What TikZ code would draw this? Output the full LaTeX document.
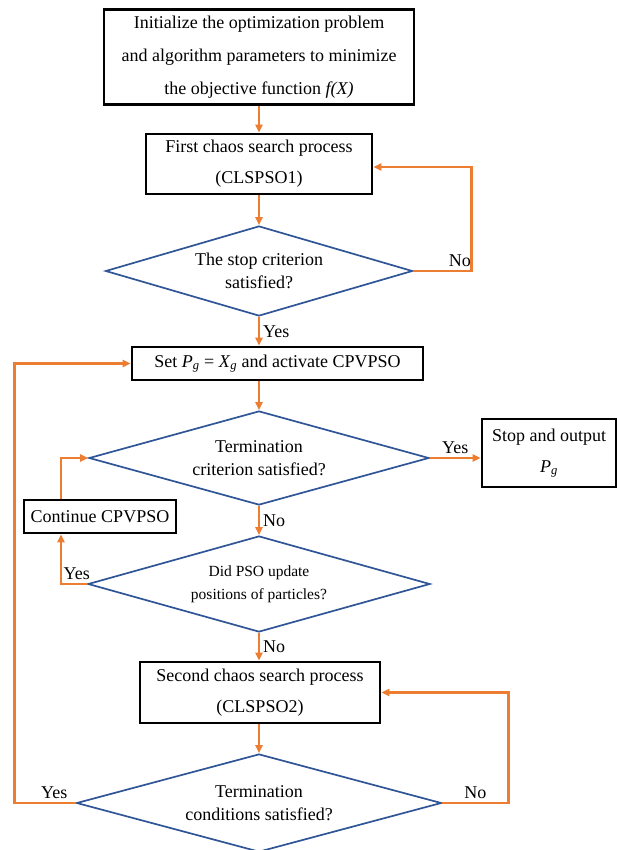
\documentclass[tikz,border=0pt]{standalone}
\usepackage{fontspec}
\setmainfont{Liberation Serif}
\usetikzlibrary{arrows.meta,positioning,shapes.geometric}
\definecolor{flowor}{RGB}{237,125,49}
\definecolor{flowbl}{RGB}{47,85,151}
\newcommand{\sym}[2]{\textit{#1}\textsubscript{\textit{#2}}}

\begin{document}
\begin{tikzpicture}[
  x=1pt, y=-1pt,
  font=\fontsize{18}{23}\selectfont,
  box/.style={draw=black, line width=2.6pt, align=center, inner sep=0pt,
              font=\fontsize{18}{31}\selectfont},
  dec/.style={diamond, draw=flowbl, line width=1.7pt, align=center, inner sep=0pt},
  arr/.style={-{Triangle[length=8pt,width=7pt]}, draw=flowor, line width=2.4pt},
  lbl/.style={font=\fontsize{18}{20}\selectfont, inner sep=3pt}
]
\useasboundingbox (0,0) rectangle (617,850);

% process boxes and decisions
\node[box, minimum width=310pt, minimum height=95pt,
      font=\fontsize{18}{33}\selectfont] (init) at (259,57)
  {Initialize the optimization problem\\
   and algorithm parameters to minimize\\
   the objective function \textit{f(X)}};
\node[box, minimum width=226pt, minimum height=60pt] (clspso1) at (259,164)
  {First chaos search process\\(CLSPSO1)};
\node[dec, minimum width=307pt, minimum height=90pt, shape aspect=3.41] (stop1) at (259,271)
  {The stop criterion\\satisfied?};
\node[box, minimum width=291pt, minimum height=33pt] (setpg) at (277.5,363.5)
  {Set \sym{P}{g} = \sym{X}{g} and activate CPVPSO};
\node[dec, minimum width=340pt, minimum height=94pt, shape aspect=3.62] (term) at (259,458)
  {Termination\\criterion satisfied?};
\node[box, minimum width=134pt, minimum height=68pt] (output) at (549,453)
  {Stop and output\\\sym{P}{g}};
\node[box, minimum width=152pt, minimum height=33pt] (cont) at (100,516.5)
  {Continue CPVPSO};
\node[dec, minimum width=342pt, minimum height=96pt, shape aspect=3.56,
      font=\fontsize{15.5}{23}\selectfont] (update) at (259,584)
  {Did PSO update\\positions of particles?};
\node[box, minimum width=240pt, minimum height=61pt] (clspso2) at (260,692.5)
  {Second chaos search process\\(CLSPSO2)};
\node[dec, minimum width=365pt, minimum height=98pt, shape aspect=3.72] (term2) at (259,803)
  {Termination\\conditions satisfied?};

% straight flow
\foreach \x/\y in {init/clspso1, clspso1/stop1} {
  \draw[arr] (\x) -- (\y);
}
\foreach \x/\y in {term/update, update/clspso2} {
  \draw[arr] (\x) -- node[lbl, right] {No} (\x.south |- \y.north);
}
\draw[arr] (term2.north |- clspso2.south) -- (term2.north);
\draw[arr] (stop1.south) -- node[lbl, right] {Yes} (stop1.south |- setpg.north);
\draw[arr] (term.north |- setpg.south) -- (term.north);
\draw[arr] (term.east) -- node[lbl, above] {Yes} (term.east -| output.west);

% loops
\draw[arr] (stop1.east) -- node[lbl, above, pos=0.8] {No} ++(58,0) |- ([yshift=-3pt]clspso1.east);
\draw[arr] (update.west) -| node[lbl, above, pos=0.2] {Yes} ([xshift=-39pt]cont.south);
\draw[arr] ([xshift=-39pt]cont.north) |- (term.west);
\draw[arr] (term2.east) -- node[lbl, above] {No} ++(66,0) |- (clspso2.east);
\draw[arr] (term2.west) -- node[lbl, above, pos=0.35] {Yes} ++(-61,0) |- (setpg.west);
\end{tikzpicture}
\end{document}
